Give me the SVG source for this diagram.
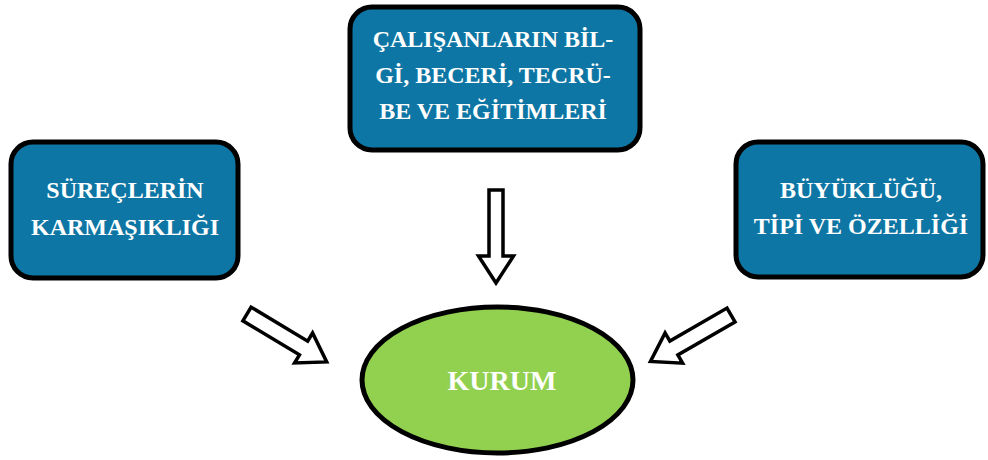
<svg xmlns="http://www.w3.org/2000/svg" width="988" height="460" viewBox="0 0 988 460">
<style>
.box{fill:#0E76A4;stroke:#000;stroke-width:5}
.oval{fill:#92D050;stroke:#000;stroke-width:5}
.t{font-family:"Liberation Serif","Times New Roman",serif;font-weight:bold;fill:#fff;text-anchor:middle;font-size:24px}
.arr{fill:#fff;stroke:#000;stroke-width:3.5;stroke-linejoin:miter}
</style>
<rect width="988" height="460" fill="#fff"/>
<g id="connectors">
<polygon class="arr" points="0,-8 66,-8 66,-17.5 93,0 66,17.5 66,8 0,8" transform="translate(247 314) rotate(31)"/>
<polygon class="arr" points="0,-7 66,-7 66,-17.5 93,0 66,17.5 66,7 0,7" transform="translate(496 190) rotate(90)"/>
<polygon class="arr" points="0,-8 66,-8 66,-17.5 93,0 66,17.5 66,8 0,8" transform="translate(731 315) rotate(150)"/>
</g>
<g id="node-top">
<rect class="box" x="350" y="7" width="290" height="143" rx="22"/>
<text class="t" x="493" y="47">ÇALIŞANLARIN BİL-</text>
<text class="t" x="493" y="83">Gİ, BECERİ, TECRÜ-</text>
<text class="t" x="493" y="119">BE VE EĞİTİMLERİ</text>
</g>
<g id="node-left">
<rect class="box" x="11" y="142" width="227" height="136" rx="22"/>
<text class="t" x="125" y="198">SÜREÇLERİN</text>
<text class="t" x="125" y="235">KARMAŞIKLIĞI</text>
</g>
<g id="node-right">
<rect class="box" x="736" y="142" width="247" height="135" rx="22"/>
<text class="t" x="861" y="198">BÜYÜKLÜĞÜ,</text>
<text class="t" x="861" y="234">TİPİ VE ÖZELLİĞİ</text>
</g>
<g id="node-kurum">
<ellipse class="oval" cx="497.5" cy="380" rx="135.5" ry="73"/>
<text class="t" x="502" y="390" style="font-size:28px">KURUM</text>
</g>
</svg>
